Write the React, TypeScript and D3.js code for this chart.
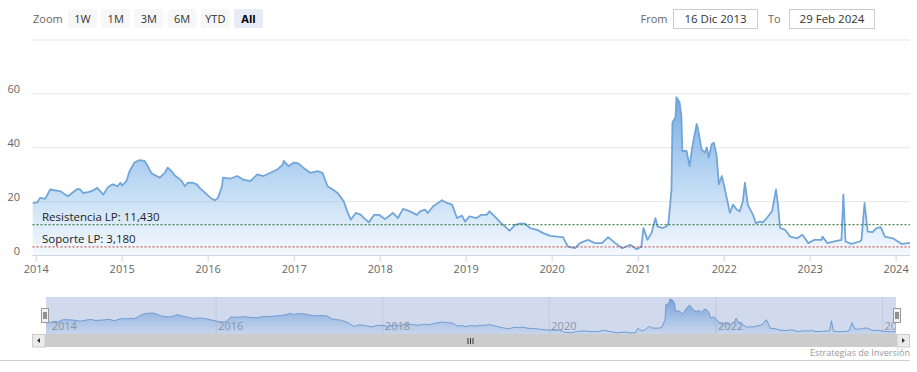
import * as d3 from "d3";

// Volatility series, split by year
const s2014: [string, number][] = [
	["2013-12-16", 19.5], ["2014-01-05", 19.7], ["2014-01-17", 21.4], ["2014-02-08", 21], ["2014-03-01", 24.5],
	["2014-03-22", 24.2], ["2014-04-12", 23.9], ["2014-05-04", 22.6], ["2014-05-16", 22], ["2014-06-02", 23.2],
	["2014-06-24", 24.7], ["2014-07-07", 24.5], ["2014-07-19", 23.2], ["2014-08-10", 23.5], ["2014-08-31", 24.2],
	["2014-09-17", 25.1], ["2014-09-30", 23.9], ["2014-10-13", 22.6], ["2014-10-30", 25.1], ["2014-11-12", 26],
	["2014-11-24", 26.4], ["2014-12-12", 25.7], ["2014-12-24", 27],
];
const s2015: [string, number][] = [
	["2015-01-01", 26], ["2015-01-19", 27.6], ["2015-02-01", 31.3], ["2015-02-22", 34.5], ["2015-03-15", 35.4],
	["2015-04-06", 35.1], ["2015-04-19", 33.2], ["2015-05-06", 30.5], ["2015-05-27", 29.5], ["2015-06-09", 28.9],
	["2015-07-01", 30.7], ["2015-07-13", 32.6], ["2015-07-30", 31.3], ["2015-08-12", 29.7], ["2015-08-25", 28.9],
	["2015-09-11", 27.6], ["2015-09-24", 25.7], ["2015-10-06", 27], ["2015-10-28", 27], ["2015-11-14", 26.4],
	["2015-11-26", 25.1], ["2015-12-27", 22.6],
];
const s2016: [string, number][] = [
	["2016-01-17", 21], ["2016-01-30", 20.5], ["2016-02-12", 21.4], ["2016-02-29", 25.7], ["2016-03-04", 28.9],
	["2016-04-03", 28.5], ["2016-05-03", 29.5], ["2016-05-29", 28.2], ["2016-06-28", 27.6], ["2016-07-28", 30.1],
	["2016-08-23", 29.5], ["2016-09-22", 30.7], ["2016-10-22", 32], ["2016-11-13", 33.8], ["2016-11-17", 35.1],
	["2016-12-08", 33.2], ["2016-12-30", 34.5],
];
const s2017: [string, number][] = [
	["2017-01-18", 34.2], ["2017-02-08", 32.6], ["2017-03-10", 30.7], ["2017-04-09", 31.3], ["2017-05-01", 30.7],
	["2017-05-22", 25.7], ["2017-06-13", 24.5], ["2017-07-04", 23.2], ["2017-07-30", 20.1], ["2017-08-16", 15.8],
	["2017-08-29", 13.3], ["2017-09-19", 15.8], ["2017-10-11", 15.1], ["2017-10-24", 13.9], ["2017-11-14", 12.3],
	["2017-12-06", 15.1], ["2017-12-27", 15.1],
];
const s2018: [string, number][] = [
	["2018-01-21", 13.5], ["2018-02-24", 15.8], ["2018-03-17", 13.9], ["2018-04-08", 17.3], ["2018-05-07", 16.4],
	["2018-06-06", 15.1], ["2018-06-19", 16.4], ["2018-07-10", 17], ["2018-07-22", 15.8], ["2018-08-13", 18.2],
	["2018-09-20", 20.5], ["2018-10-11", 19.5], ["2018-11-02", 18.9], ["2018-11-23", 13.9], ["2018-12-14", 14.8],
	["2018-12-27", 12.6],
];
const s2019: [string, number][] = [
	["2019-01-15", 14.5], ["2019-02-14", 13.9], ["2019-03-07", 15.1], ["2019-03-29", 15.1], ["2019-04-10", 16.4],
	["2019-05-02", 14.5], ["2019-05-23", 12.6], ["2019-06-14", 10.8], ["2019-07-05", 9.2], ["2019-07-27", 11.4],
	["2019-08-17", 11.8], ["2019-09-08", 11.8], ["2019-09-29", 10.2], ["2019-10-29", 9.5], ["2019-11-24", 8.3],
	["2019-12-24", 7.3],
];
const s2020: [string, number][] = [
	["2020-01-21", 7], ["2020-02-16", 6.8], ["2020-03-08", 3.3], ["2020-04-07", 2.7], ["2020-04-28", 4.6],
	["2020-06-01", 5.8], ["2020-07-01", 4.6], ["2020-07-31", 4.6], ["2020-08-26", 6.8], ["2020-09-25", 4.6],
	["2020-10-25", 2.7], ["2020-11-28", 4], ["2020-12-25", 2.3],
];
const s2021: [string, number][] = [
	["2021-01-14", 3.3], ["2021-01-23", 10.2], ["2021-02-09", 5.8], ["2021-02-26", 8.3], ["2021-03-15", 13.9],
	["2021-03-23", 10.8], ["2021-04-14", 10.2], ["2021-05-01", 10.8], ["2021-05-09", 12], ["2021-05-22", 24.5],
	["2021-05-26", 49.4], ["2021-06-08", 51.3], ["2021-06-12", 58.8], ["2021-06-25", 56.9], ["2021-07-03", 51.9],
	["2021-07-07", 38.8], ["2021-07-25", 38.8], ["2021-08-07", 33.2], ["2021-08-19", 40.7], ["2021-09-06", 48.8],
	["2021-09-10", 47.6], ["2021-09-27", 39.4], ["2021-10-10", 38.2], ["2021-10-19", 40.1], ["2021-10-27", 36.3],
	["2021-11-09", 41.3], ["2021-11-18", 41.9], ["2021-11-30", 36.9], ["2021-12-09", 26.4], ["2021-12-22", 29.5],
];
const s2022: [string, number][] = [
	["2022-01-04", 24.5], ["2022-01-25", 15.8], ["2022-02-07", 18.9], ["2022-02-24", 17], ["2022-03-08", 16.4],
	["2022-03-21", 20.1], ["2022-03-30", 27], ["2022-04-11", 18.9], ["2022-05-03", 15.1], ["2022-05-15", 12],
	["2022-06-01", 12.6], ["2022-06-14", 12.3], ["2022-07-01", 13.9], ["2022-07-23", 16.4], ["2022-08-09", 24.5],
	["2022-08-18", 18.2], ["2022-08-26", 10.2], ["2022-09-17", 9.5], ["2022-10-08", 7], ["2022-11-07", 6.4],
	["2022-11-29", 7.7], ["2022-12-24", 4.6],
];
const s2023: [string, number][] = [
	["2023-01-19", 5.8], ["2023-02-18", 5.8], ["2023-02-22", 7], ["2023-03-15", 4.6], ["2023-04-14", 5.2],
	["2023-05-14", 5.8], ["2023-05-22", 22.6], ["2023-05-31", 5.2], ["2023-06-25", 4.3], ["2023-07-30", 5.2],
	["2023-08-07", 5.8], ["2023-08-20", 19.5], ["2023-09-02", 8.9], ["2023-09-23", 8.7], ["2023-10-10", 10.2],
	["2023-10-28", 10.5], ["2023-11-14", 7], ["2023-12-18", 6.4], ["2024-01-25", 4.3], ["2024-02-29", 4.7],
];

const yTicks = [0, 20, 40, 60];
const yGrid = [20, 40, 60, 80];
const xYears = [2014, 2015, 2016, 2017, 2018, 2019, 2020, 2021, 2022, 2023, 2024];
const navYears = [2014, 2016, 2018, 2020, 2022, 2024];
const zoomButtons = ["1W", "1M", "3M", "6M", "YTD", "All"];
const levels = [
	{ label: "Resistencia LP: 11,430", value: 11.43, color: "#1f6b2a" },
	{ label: "Soporte LP: 3,180", value: 3.18, color: "#b8403c" },
];

const parse = d3.timeParse("%Y-%m-%d");
const font = "'Open Sans', sans-serif";

export default function App() {
	const data = [...s2014, ...s2015, ...s2016, ...s2017, ...s2018, ...s2019, ...s2020, ...s2021, ...s2022, ...s2023]
		.map(([d, v]) => ({ date: parse(d) as Date, value: v }));

	const width = 917, height = 372;
	const plot = { left: 32.5, right: 910, top: 40, bottom: 255.5 };
	const domain = [parse("2013-12-16") as Date, parse("2024-02-29") as Date];

	const x = d3.scaleTime(domain, [plot.left, plot.right]);
	const y = d3.scaleLinear([0, 80], [plot.bottom, plot.top]);

	const nav = { left: 46, right: 896, top: 297, bottom: 334 };
	const nx = d3.scaleTime(domain, [nav.left, nav.right]);
	const ny = d3.scaleLinear(d3.extent(data, d => d.value) as [number, number], [333, 299]);

	const line = d3.line<any>().x(d => x(d.date)).y(d => y(d.value));
	const area = d3.area<any>().x(d => x(d.date)).y0(plot.bottom).y1(d => y(d.value));
	const navLine = d3.line<any>().x(d => nx(d.date)).y(d => ny(d.value));
	const navArea = d3.area<any>().x(d => nx(d.date)).y0(nav.bottom).y1(d => ny(d.value));

	const yearDate = (yr: number) => new Date(yr, 0, 1);

	return (
		<svg width={width} height={height} style={{ position: "absolute", left: 0, top: 0, fontFamily: font }}>
			<defs>
				<linearGradient id="fillMain" gradientUnits="userSpaceOnUse" x1="0" y1={y(59)} x2="0" y2={plot.bottom}>
					<stop offset="0" stopColor="#6fa6de" stopOpacity="0.95" />
					<stop offset="1" stopColor="#7cb5ec" stopOpacity="0.08" />
				</linearGradient>
				<linearGradient id="fillNav" gradientUnits="userSpaceOnUse" x1="0" y1="299" x2="0" y2={nav.bottom}>
					<stop offset="0" stopColor="#6fa6de" stopOpacity="0.9" />
					<stop offset="1" stopColor="#7cb5ec" stopOpacity="0.1" />
				</linearGradient>
				<clipPath id="plotClip">
					<rect x={plot.left} y={plot.top - 5} width={plot.right - plot.left} height={plot.bottom - plot.top + 5} />
				</clipPath>
				<clipPath id="navClip">
					<rect x={nav.left} y={nav.top} width={nav.right - nav.left} height={nav.bottom - nav.top} />
				</clipPath>
			</defs>

			{/* range selector */}
			<text x={33} y={22.5} fontSize={11} fill="#666">Zoom</text>
			{zoomButtons.map((b, i) => {
				const bx = 68 + i * 33.2;
				const sel = b === "All";
				return (
					<g key={b}>
						<rect x={bx} y={9} width={29} height={19} rx={2} fill={sel ? "#e6ebf5" : "#f7f7f7"} />
						<text x={bx + 14.5} y={22.5} fontSize={11} textAnchor="middle" fill={sel ? "#000" : "#333"} fontWeight={sel ? "bold" : "normal"}>{b}</text>
					</g>
				);
			})}
			<text x={640.5} y={22.5} fontSize={11} fill="#666">From</text>
			<rect x={673.5} y={9.5} width={84} height={19} fill="#fff" stroke="#cccccc" />
			<text x={715.5} y={23} fontSize={11.5} textAnchor="middle" fill="#333">16 Dic 2013</text>
			<text x={768} y={22.5} fontSize={11} fill="#666">To</text>
			<rect x={789.5} y={9.5} width={85} height={19} fill="#fff" stroke="#cccccc" />
			<text x={832} y={23} fontSize={11.5} textAnchor="middle" fill="#333">29 Feb 2024</text>

			{/* grid */}
			{yGrid.map(t => (
				<line key={t} x1={plot.left} x2={plot.right} y1={y(t)} y2={y(t)} stroke="#e6e6e6" />
			))}
			{yTicks.map(t => (
				<text key={t} x={20} y={y(t) - 1} fontSize={11} textAnchor="end" fill="#666">{t}</text>
			))}

			{/* series */}
			<g clipPath="url(#plotClip)">
				<path d={area(data) ?? ""} fill="url(#fillMain)" />
				<path d={line(data) ?? ""} fill="none" stroke="#72a6da" strokeWidth={1.8} strokeLinejoin="round" />
			</g>

			{/* support / resistance */}
			{levels.map(l => (
				<g key={l.label}>
					<line x1={plot.left} x2={plot.right} y1={y(l.value)} y2={y(l.value)} stroke={l.color} strokeDasharray="2,2" />
					<text x={42} y={y(l.value) - 3.5} fontSize={11.5} fill="#222">{l.label}</text>
				</g>
			))}

			{/* x axis */}
			<line x1={plot.left} x2={plot.right} y1={plot.bottom} y2={plot.bottom} stroke="#ccd6eb" />
			{xYears.map(yr => (
				<g key={yr}>
					<line x1={x(yearDate(yr))} x2={x(yearDate(yr))} y1={plot.bottom} y2={plot.bottom + 6} stroke="#ccd6eb" />
					<text x={x(yearDate(yr))} y={273} fontSize={11} textAnchor="middle" fill="#666">{yr}</text>
				</g>
			))}

			{/* navigator */}
			<g clipPath="url(#navClip)">
				<path d={navArea(data) ?? ""} fill="url(#fillNav)" />
				<path d={navLine(data) ?? ""} fill="none" stroke="#72a6da" strokeWidth={1} />
				<rect x={nav.left} y={nav.top} width={nav.right - nav.left} height={nav.bottom - nav.top} fill="rgba(102,133,194,0.3)" />
				{navYears.filter(yr => yr > 2014).map(yr => (
					<line key={yr} x1={nx(yearDate(yr))} x2={nx(yearDate(yr))} y1={nav.top} y2={nav.bottom} stroke="rgba(0,0,0,0.07)" />
				))}
				{navYears.map(yr => (
					<text key={yr} x={nx(yearDate(yr)) + 2} y={330} fontSize={11} fill="#8a93a8">{yr === 2024 ? "20…" : yr}</text>
				))}
			</g>
			{[nav.left - 1, nav.right + 1].map(hx => (
				<g key={hx}>
					<rect x={hx - 3.5} y={308.5} width={7} height={14} fill="#f2f2f2" stroke="#999" />
					<line x1={hx - 1} x2={hx - 1} y1={312} y2={319} stroke="#333" />
					<line x1={hx + 1} x2={hx + 1} y1={312} y2={319} stroke="#333" />
				</g>
			))}

			{/* scrollbar */}
			<rect x={32.5} y={334} width={877.5} height={13} fill="#f2f2f2" />
			<rect x={45} y={334} width={852} height={13} fill="#cccccc" />
			<rect x={32.5} y={334.5} width={12.5} height={12.5} fill="#ebebeb" stroke="#cccccc" />
			<rect x={897} y={334.5} width={12.5} height={12.5} fill="#ebebeb" stroke="#cccccc" />
			<path d="M40,338 L37,340.5 L40,343 Z" fill="#333" />
			<path d="M902,338 L905,340.5 L902,343 Z" fill="#333" />
			{[468, 470.5, 473].map(gx => (
				<line key={gx} x1={gx} x2={gx} y1={338} y2={344} stroke="#333" />
			))}

			<line x1={0} x2={910} y1={360.5} y2={360.5} stroke="#cccccc" />
			<text x={910} y={356} fontSize={9} textAnchor="end" fill="#999">Estrategias de Inversión</text>
		</svg>
	);
}
